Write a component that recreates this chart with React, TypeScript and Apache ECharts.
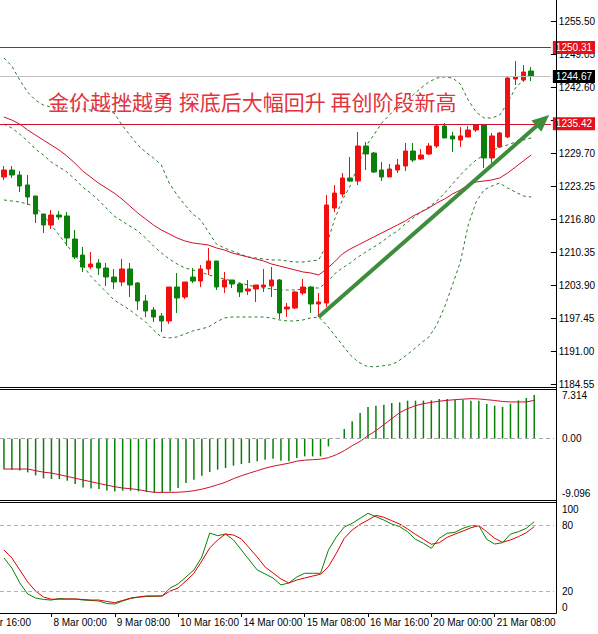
import React, { useEffect, useRef } from 'react';
import * as echarts from 'echarts';

// ---- DATA ----
const slotCount = 70;
const xCats = Array.from({ length: slotCount }, (_, i) => String(i));
const tickIdx = [6, 14, 22, 30, 38, 46, 54, 62];
const tickText = ['8 Mar 00:00', '9 Mar 08:00', '10 Mar 16:00', '14 Mar 00:00', '15 Mar 08:00', '16 Mar 16:00', '20 Mar 00:00', '21 Mar 08:00'];
const firstLabel = '7 Mar 16:00';

// [open, close, low, high]
const ohlc = [
  [1225.01, 1226.38, 1224.42, 1227.16], [1226.38, 1225.40, 1224.82, 1227.16], [1225.40, 1223.25, 1222.08, 1226.18],
  [1223.45, 1221.10, 1219.54, 1225.40], [1221.30, 1217.78, 1216.02, 1221.30], [1217.78, 1215.63, 1214.07, 1217.78],
  [1215.63, 1217.58, 1214.85, 1218.56], [1217.58, 1217.19, 1216.61, 1218.36], [1217.39, 1213.09, 1211.52, 1218.17],
  [1212.89, 1209.37, 1208.98, 1214.65], [1209.76, 1207.42, 1206.44, 1211.33], [1207.42, 1208.00, 1207.03, 1210.35],
  [1208.20, 1207.22, 1205.85, 1208.98], [1207.22, 1205.46, 1203.70, 1208.20], [1205.46, 1204.49, 1203.12, 1207.03],
  [1204.49, 1207.03, 1203.70, 1208.98], [1207.03, 1203.90, 1201.55, 1208.20], [1204.29, 1200.77, 1199.02, 1204.49],
  [1200.77, 1198.82, 1197.65, 1201.95], [1199.02, 1197.65, 1196.67, 1199.60], [1197.84, 1196.86, 1194.71, 1198.43],
  [1196.86, 1203.51, 1196.28, 1203.51], [1203.51, 1201.36, 1198.43, 1206.25], [1201.55, 1204.49, 1201.16, 1204.49],
  [1205.46, 1204.68, 1204.29, 1207.22], [1204.68, 1207.03, 1203.51, 1207.81], [1207.03, 1208.59, 1205.85, 1211.13],
  [1208.59, 1203.51, 1202.92, 1208.59], [1203.51, 1204.88, 1202.34, 1206.44], [1204.88, 1204.10, 1203.31, 1204.88],
  [1204.10, 1202.53, 1201.55, 1204.29], [1202.73, 1203.12, 1201.95, 1204.88], [1203.12, 1203.90, 1200.58, 1203.90],
  [1203.51, 1203.90, 1202.53, 1207.03], [1203.70, 1204.88, 1201.55, 1207.42], [1204.88, 1198.43, 1197.26, 1205.07],
  [1199.21, 1199.60, 1197.65, 1200.38], [1199.41, 1202.53, 1199.21, 1202.73], [1202.34, 1203.51, 1201.95, 1205.07],
  [1203.51, 1200.19, 1198.43, 1203.70], [1200.19, 1200.58, 1197.65, 1202.34], [1200.38, 1219.54, 1199.60, 1221.49],
  [1218.95, 1221.88, 1218.17, 1223.45], [1221.69, 1224.82, 1221.10, 1225.79], [1224.82, 1224.23, 1224.04, 1228.92],
  [1224.23, 1231.07, 1223.45, 1233.81], [1231.07, 1229.51, 1226.38, 1231.85], [1229.70, 1225.99, 1225.79, 1229.90],
  [1226.38, 1225.01, 1224.23, 1227.94], [1225.01, 1226.57, 1225.01, 1227.55], [1226.38, 1227.36, 1225.79, 1228.53],
  [1227.16, 1230.09, 1226.18, 1231.66], [1230.09, 1228.33, 1227.94, 1231.66], [1228.53, 1229.31, 1228.33, 1230.48],
  [1229.51, 1231.07, 1229.31, 1231.66], [1231.07, 1234.98, 1230.68, 1235.37], [1234.98, 1232.63, 1232.63, 1235.57],
  [1233.03, 1232.44, 1229.90, 1233.81], [1232.24, 1233.03, 1230.87, 1234.79], [1232.83, 1234.20, 1232.83, 1234.98],
  [1234.20, 1235.17, 1233.81, 1235.17], [1235.17, 1228.73, 1226.77, 1235.17], [1228.73, 1233.03, 1227.75, 1233.61],
  [1230.87, 1233.61, 1230.68, 1233.81], [1232.83, 1244.36, 1232.63, 1244.75], [1244.17, 1244.56, 1242.99, 1247.69],
  [1243.97, 1245.53, 1243.58, 1246.90], [1245.73, 1244.67, 1243.78, 1246.51],
];

const upperBand = [
  1248.27, 1246.71, 1243.97, 1241.62, 1240.06, 1239.08, 1238.69, 1238.50, 1238.50, 1238.50,
  1238.30, 1238.11, 1238.11, 1237.91, 1237.52, 1235.17, 1233.22, 1231.27, 1229.90, 1228.73,
  1227.36, 1223.84, 1221.49, 1219.54, 1217.78, 1216.61, 1214.27, 1211.92, 1211.14, 1210.55,
  1209.97, 1209.38, 1209.18, 1208.99, 1208.79, 1208.79, 1208.60, 1208.40, 1208.40, 1208.60,
  1208.79, 1211.72, 1216.61, 1220.52, 1223.25, 1227.36, 1231.07, 1233.22, 1235.57, 1237.13,
  1238.89, 1239.87, 1241.04, 1242.41, 1243.58, 1244.36, 1244.56, 1244.36, 1243.19, 1240.06,
  1237.71, 1236.54, 1236.54, 1237.13, 1239.47, 1242.41, 1243.97, 1245.34,
];
const midBand = [
  1235.37, 1234.59, 1233.41, 1232.05, 1230.48, 1229.31, 1227.94, 1226.96, 1225.99, 1224.62,
  1223.05, 1221.88, 1220.52, 1218.95, 1217.39, 1216.41, 1215.43, 1214.46, 1213.09, 1211.53,
  1210.16, 1208.99, 1208.01, 1207.23, 1206.84, 1206.45, 1205.86, 1205.47, 1205.08, 1204.69,
  1204.29, 1203.90, 1203.51, 1203.32, 1203.12, 1202.93, 1202.93, 1202.93, 1203.12, 1203.32,
  1203.32, 1204.29, 1206.05, 1207.23, 1208.21, 1209.38, 1210.36, 1211.33, 1212.31, 1213.48,
  1214.46, 1215.83, 1217.00, 1218.17, 1219.15, 1220.32, 1221.88, 1223.64, 1225.40, 1226.96,
  1228.34, 1229.31, 1230.09, 1230.88, 1231.27, 1231.85, 1232.25, 1232.64,
];
const lowerBand = [
  1220.52, 1220.32, 1220.13, 1219.74, 1219.15, 1217.59, 1215.63, 1213.68, 1211.72, 1209.77,
  1207.82, 1205.66, 1204.10, 1202.54, 1200.97, 1199.99, 1199.02, 1197.84, 1196.67, 1195.11,
  1193.74, 1193.55, 1193.74, 1194.33, 1194.91, 1195.30, 1195.70, 1196.67, 1197.46, 1197.65,
  1197.65, 1197.65, 1197.65, 1197.65, 1197.46, 1197.07, 1196.87, 1196.87, 1197.07, 1197.46,
  1197.65, 1196.09, 1194.13, 1192.18, 1190.23, 1188.86, 1188.08, 1187.88, 1188.08, 1188.27,
  1188.86, 1190.03, 1191.20, 1192.57, 1193.74, 1196.09, 1199.61, 1203.91, 1208.40, 1215.63,
  1220.13, 1222.47, 1223.25, 1223.84, 1222.86, 1222.08, 1221.30, 1221.10,
];
const maLine = [
  1236.74, 1236.15, 1235.37, 1234.20, 1233.22, 1232.25, 1231.27, 1230.29, 1229.12, 1227.75,
  1226.19, 1225.01, 1223.84, 1222.86, 1221.88, 1220.71, 1219.34, 1217.98, 1216.80, 1215.63,
  1214.66, 1213.88, 1213.09, 1212.51, 1212.12, 1211.92, 1211.72, 1211.14, 1210.75, 1210.16,
  1209.77, 1209.38, 1208.99, 1208.60, 1208.01, 1207.62, 1207.23, 1206.84, 1206.45, 1206.25,
  1205.86, 1207.03, 1208.40, 1209.97, 1210.94, 1211.72, 1212.51, 1213.29, 1214.07, 1214.85,
  1215.63, 1216.41, 1217.39, 1218.17, 1218.95, 1219.93, 1220.71, 1221.69, 1222.47, 1223.45,
  1224.04, 1224.23, 1224.43, 1224.82, 1225.79, 1226.96, 1228.14, 1229.31,
];

const macdHist = [
  -5.10, -5.19, -5.31, -5.64, -6.15, -6.65, -6.75, -6.75, -7.04, -7.59,
  -8.16, -8.33, -8.43, -8.66, -8.83, -8.71, -8.71, -8.83, -8.93, -9.09,
  -9.09, -8.83, -8.26, -7.42, -6.87, -6.20, -5.58, -5.19, -4.91, -4.52,
  -4.24, -4.07, -3.80, -3.52, -3.35, -3.69, -3.80, -3.23, -2.96, -2.96,
  -2.96, -1.29, 0.12, 1.62, 2.90, 4.30, 5.31, 5.53, 5.70, 5.98,
  6.08, 6.37, 6.37, 6.37, 6.42, 6.65, 6.65, 6.53, 6.53, 6.37,
  6.37, 5.81, 5.53, 5.31, 5.86, 6.42, 6.82, 7.31,
];
const macdSignal = [
  -5.08, -5.08, -5.08, -5.08, -5.36, -5.61, -5.75, -6.03, -6.33, -6.62,
  -6.92, -7.20, -7.50, -7.79, -8.04, -8.26, -8.38, -8.54, -8.79, -8.99,
  -8.99, -8.99, -8.96, -8.88, -8.71, -8.46, -8.12, -7.71, -7.29, -6.70,
  -6.20, -5.78, -5.36, -4.94, -4.61, -4.36, -4.10, -3.77, -3.60, -3.52,
  -3.43, -3.18, -2.68, -2.01, -1.17, -0.45, 0.50, 1.34, 2.35, 3.35,
  4.36, 5.03, 5.53, 5.86, 6.08, 6.28, 6.42, 6.53, 6.62, 6.70,
  6.65, 6.53, 6.40, 6.23, 6.15, 6.15, 6.15, 6.42,
];
const macdMax = 7.314;
const macdMin = -9.096;

const stochK = [
  50.0, 40.9, 27.3, 17.3, 13.6, 12.3, 11.8, 13.2, 12.7, 12.7,
  11.8, 11.4, 10.9, 8.6, 8.2, 10.9, 13.2, 14.5, 15.0, 15.2,
  15.5, 22.7, 26.4, 32.7, 39.1, 50.9, 72.7, 70.3, 71.8, 66.4,
  57.3, 48.2, 39.1, 35.5, 31.8, 25.5, 27.3, 32.7, 36.1, 36.1,
  36.1, 57.3, 69.1, 78.2, 81.5, 86.1, 90.6, 87.5, 84.5, 80.9,
  78.5, 73.9, 67.0, 63.4, 58.8, 67.9, 72.5, 73.4, 77.0, 79.4,
  79.4, 67.0, 62.7, 63.9, 71.8, 73.9, 77.0, 83.0,
];
const stochD = [
  57.3, 50.0, 39.1, 28.2, 20.0, 14.5, 12.5, 12.5, 12.7, 12.7,
  12.3, 11.8, 11.8, 10.5, 9.4, 11.4, 13.6, 14.5, 15.5, 15.5,
  15.5, 20.0, 22.7, 29.1, 36.1, 47.3, 59.1, 66.4, 71.8, 70.9,
  67.3, 59.1, 50.9, 41.8, 36.4, 30.9, 27.3, 30.0, 31.8, 33.6,
  35.2, 42.1, 54.3, 67.9, 75.5, 80.6, 84.5, 88.8, 87.0, 83.9,
  80.9, 76.4, 71.5, 67.0, 62.5, 63.9, 68.8, 71.8, 74.5, 77.5,
  79.4, 73.9, 67.9, 64.3, 66.4, 69.4, 73.0, 78.5,
];
const stochLevels = [20, 80];
const stochEnds = [0, 100];

const priceMin = 1184.55;
const priceMax = 1259.61;
const priceStep = 6.45;
const resistance = 1250.31;
const support = 1235.42;
const lastPrice = 1244.67;

const title = '金价越挫越勇 探底后大幅回升 再创阶段新高';
const arrowFrom = [40, 1197.65];
const arrowTo = [69, 1236.74];

// ---- STYLE ----
const RED = '#f01010';
const GREEN = '#0a800a';
const BAND = '#2a7a2a';
const LINE_RED = '#d0102a';
const FONT = '"Liberation Sans", Arial, sans-serif';
const FS = 10;

export default function App() {
  const ref = useRef<HTMLDivElement>(null);
  useEffect(() => {
    if (!ref.current) return;
    const chart = echarts.init(ref.current, null, { renderer: 'svg' });
    const axText = { fontFamily: FONT, fontSize: FS, color: '#000' };
    const gridW = 560;
    const xAxes = [0, 1, 2].map((g) => ({
      type: 'category',
      gridIndex: g,
      data: xCats,
      boundaryGap: true,
      show: g === 2,
      axisLine: { show: false },
      axisTick: {
        show: true,
        alignWithLabel: true,
        length: 4,
        interval: (i: number) => tickIdx.includes(i),
        lineStyle: { color: '#000' },
      },
      axisLabel: {
        ...axText,
        interval: (i: number) => tickIdx.includes(i),
        formatter: (_v: string, i: number) => {
          const k = tickIdx.indexOf(i);
          return k >= 0 ? tickText[k] : '';
        },
        showMinLabel: true,
        showMaxLabel: true,
        align: 'left',
        margin: 4,
        padding: [0, 0, 0, 2],
      },
      splitLine: { show: false },
    }));
    const lineS = (data: number[], color: string, dashed: boolean, xi = 0) => ({
      type: 'line',
      xAxisIndex: xi,
      yAxisIndex: xi,
      data,
      symbol: 'none',
      silent: true,
      lineStyle: { color, width: 1, type: dashed ? [3, 3] : 'solid' },
      z: 3,
    });
    const markLab = (bg: string) => ({
      show: true,
      position: 'end',
      distance: 2,
      formatter: (p: any) => Number(p.value).toFixed(2),
      color: '#fff',
      backgroundColor: bg,
      padding: [2, 3, 1, 3],
      fontFamily: FONT,
      fontSize: FS,
    });
    const marks = [resistance, lastPrice, support];
    chart.setOption({
      animation: false,
      backgroundColor: '#fff',
      grid: [
        { left: -6, top: 0, width: gridW, height: 384 },
        { left: -6, top: 395, width: gridW, height: 98 },
        { left: -6, top: 503, width: gridW, height: 110 },
      ],
      xAxis: xAxes,
      yAxis: [
        {
          type: 'value', gridIndex: 0, position: 'right',
          min: priceMin, max: priceMax, interval: priceStep,
          axisLine: { show: false },
          axisTick: { show: true, length: 6, lineStyle: { color: '#000' } },
          axisLabel: {
            ...axText, margin: 8, showMaxLabel: false,
            // a scale label that sits fully under a price tag is not drawn (as in MT4)
            formatter: (v: number) => (Math.abs(v - support) < 1.2 ? '' : v.toFixed(2)),
          },
          splitLine: { show: false },
        },
        {
          type: 'value', gridIndex: 1, position: 'right',
          min: macdMin, max: macdMax,
          axisLine: { show: false },
          axisTick: { show: false },
          axisLabel: {
            ...axText, margin: 8,
            customValues: [macdMin, 0, macdMax],
            formatter: (v: number) => (v === 0 ? '0.00' : v.toFixed(3)),
          },
          splitLine: { show: false },
        },
        {
          type: 'value', gridIndex: 2, position: 'right',
          min: 0, max: 100,
          axisLine: { show: false },
          axisTick: { show: false },
          axisLabel: { ...axText, margin: 8, customValues: stochLevels },
          splitLine: { show: false },
        },
      ],
      series: [
        lineS(upperBand, BAND, true),
        lineS(midBand, BAND, true),
        lineS(lowerBand, BAND, true),
        lineS(maLine, LINE_RED, false),
        {
          type: 'candlestick',
          xAxisIndex: 0,
          yAxisIndex: 0,
          data: ohlc,
          barWidth: 5,
          z: 4,
          itemStyle: { color: RED, color0: GREEN, borderColor: RED, borderColor0: GREEN, borderWidth: 1 },
          markLine: {
            silent: true,
            symbol: ['none', 'none'],
            z: 6,
            data: [
              { yAxis: marks[0], lineStyle: { color: LINE_RED, width: 1, type: 'solid' }, label: markLab('#e8101a') },
              { yAxis: marks[1], lineStyle: { color: '#c0c0c0', width: 1, type: 'solid' }, label: markLab('#000') },
              { yAxis: marks[2], lineStyle: { color: LINE_RED, width: 1, type: 'solid' }, label: markLab('#e8101a') },
            ],
          },
        },
        {
          type: 'bar',
          xAxisIndex: 1,
          yAxisIndex: 1,
          data: macdHist,
          barWidth: 1.5,
          silent: true,
          itemStyle: { color: GREEN },
          markLine: {
            silent: true,
            symbol: ['none', 'none'],
            label: { show: false },
            lineStyle: { color: '#a8a8a8', type: [4, 3], width: 1 },
            data: [{ yAxis: 0 }],
          },
        },
        lineS(macdSignal, LINE_RED, false, 1),
        {
          ...lineS(stochK, GREEN, false, 2),
          markLine: {
            silent: true,
            symbol: ['none', 'none'],
            label: { show: false },
            lineStyle: { color: '#b0b0b0', type: [4, 3], width: 1 },
            data: stochLevels.map((v) => ({ yAxis: v })),
          },
        },
        lineS(stochD, '#e00000', false, 2),
      ],
    });

    // pixel positions through the chart's own scales
    const S = chart.convertToPixel({ xAxisIndex: 0, yAxisIndex: 0 }, arrowFrom) as number[];
    let T = chart.convertToPixel({ xAxisIndex: 0, yAxisIndex: 0 }, arrowTo) as number[];
    const dx = T[0] - S[0];
    const dy = T[1] - S[1];
    const len = Math.sqrt(dx * dx + dy * dy);
    const ux = dx / len, uy = dy / len;
    T = [T[0] + ux * 3, T[1] + uy * 3];
    const nx = -uy, ny = ux;
    const headL = 17, headW = 7.5;
    const B = [T[0] - ux * headL, T[1] - uy * headL];
    const y100 = chart.convertToPixel({ yAxisIndex: 2 }, stochEnds[1]) as number;
    const y0 = chart.convertToPixel({ yAxisIndex: 2 }, stochEnds[0]) as number;
    const frameX = 556.5;
    const hl = (y: number) => ({
      type: 'line', z: 100, silent: true,
      shape: { x1: 0, y1: y, x2: frameX, y2: y },
      style: { stroke: '#000', lineWidth: 1 },
    });
    chart.setOption({
      graphic: [
        hl(387.5), hl(389.5), hl(500.5), hl(502.5), hl(613.5),
        {
          type: 'line', z: 100, silent: true,
          shape: { x1: frameX, y1: 0, x2: frameX, y2: 613.5 },
          style: { stroke: '#000', lineWidth: 1 },
        },
        {
          type: 'text', z: 90, silent: true, x: 48, y: 101,
          style: {
            text: title, fill: '#e2343f', fontSize: 21,
            fontFamily: '"Noto Sans CJK SC", sans-serif',
            verticalAlign: 'middle', align: 'left',
          },
        },
        {
          type: 'line', z: 80, silent: true,
          shape: { x1: S[0], y1: S[1], x2: B[0] + ux * 4, y2: B[1] + uy * 4 },
          style: { stroke: '#3d8d3d', lineWidth: 4 },
        },
        {
          type: 'polygon', z: 80, silent: true,
          shape: {
            points: [
              [T[0], T[1]],
              [B[0] + nx * headW, B[1] + ny * headW],
              [B[0] - nx * headW, B[1] - ny * headW],
            ],
          },
          style: { fill: '#3d8d3d' },
        },
        {
          type: 'text', z: 90, silent: true, x: 31, y: 622,
          style: { text: firstLabel, fill: '#000', fontSize: FS, fontFamily: FONT, align: 'right', verticalAlign: 'middle' },
        },
        {
          type: 'text', z: 90, silent: true, x: 562, y: y100 + 6,
          style: { text: String(stochEnds[1]), fill: '#000', fontSize: FS, fontFamily: FONT, align: 'left', verticalAlign: 'middle' },
        },
        {
          type: 'text', z: 90, silent: true, x: 562, y: y0 - 6,
          style: { text: String(stochEnds[0]), fill: '#000', fontSize: FS, fontFamily: FONT, align: 'left', verticalAlign: 'middle' },
        },
      ],
    });
    return () => chart.dispose();
  }, []);
  return (
    <div
      ref={ref}
      style={{ position: 'fixed', left: 0, top: 0, width: 598, height: 634, background: '#fff' }}
    />
  );
}
